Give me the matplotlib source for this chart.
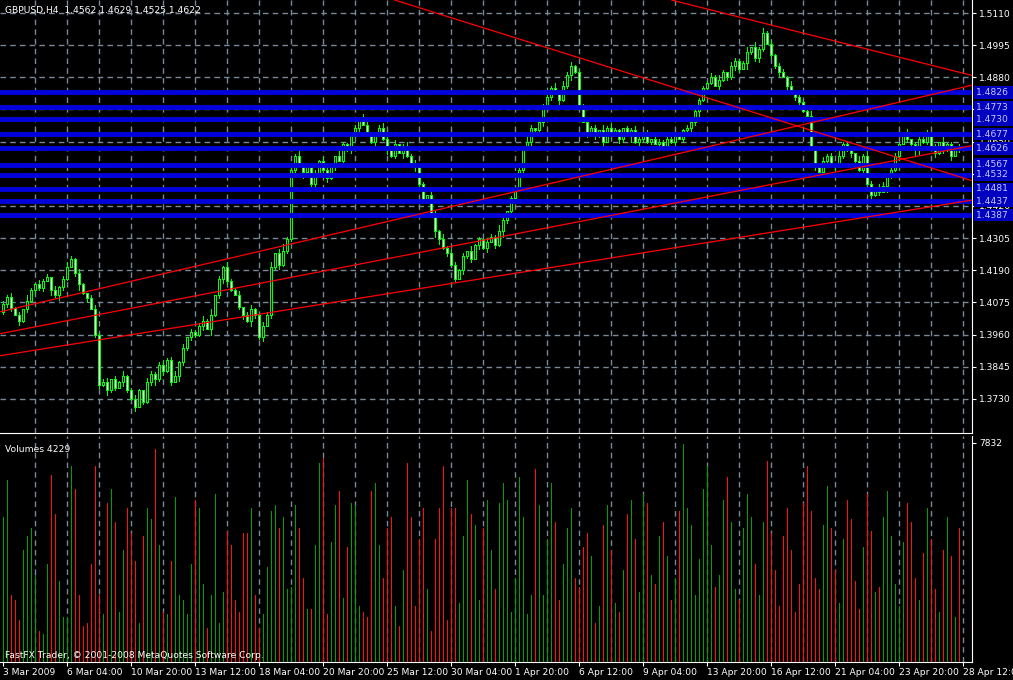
import numpy as np
import matplotlib.pyplot as plt
from matplotlib.patches import Rectangle

# GBPUSD H4, 3 Mar 2009 .. 28 Apr 2009 (closes)
closes = [
    1.4070, 1.4095, 1.4055, 1.4030, 1.4010, 1.4050, 1.4080, 1.4120,
    1.4140, 1.4125, 1.4150, 1.4165, 1.4120, 1.4100, 1.4130, 1.4160,
    1.4200, 1.4230, 1.4180, 1.4140, 1.4110, 1.4090, 1.4050, 1.3960,
    1.3780, 1.3790, 1.3760, 1.3800, 1.3770, 1.3790, 1.3810, 1.3760,
    1.3730, 1.3700, 1.3760, 1.3720, 1.3790, 1.3820, 1.3800, 1.3850,
    1.3830, 1.3870, 1.3790, 1.3810, 1.3860, 1.3910, 1.3950, 1.3970,
    1.3960, 1.3990, 1.4010, 1.3980, 1.4030, 1.4100, 1.4160, 1.4200,
    1.4150, 1.4120, 1.4100, 1.4060, 1.4030, 1.4010, 1.4050, 1.4030,
    1.3950, 1.3990, 1.4030, 1.4200, 1.4250, 1.4210, 1.4260, 1.4300,
    1.4550, 1.4600, 1.4570, 1.4540, 1.4560, 1.4500, 1.4530, 1.4580,
    1.4550, 1.4520, 1.4560, 1.4600, 1.4580, 1.4640, 1.4620, 1.4670,
    1.4700, 1.4730, 1.4710, 1.4680, 1.4650, 1.4680, 1.4700, 1.4660,
    1.4620, 1.4600, 1.4640, 1.4610, 1.4630, 1.4600, 1.4570, 1.4560,
    1.4500, 1.4440, 1.4460, 1.4390, 1.4330, 1.4300, 1.4270, 1.4250,
    1.4210, 1.4160, 1.4190, 1.4240, 1.4260, 1.4230, 1.4280, 1.4300,
    1.4270, 1.4290, 1.4310, 1.4280, 1.4330, 1.4370, 1.4400, 1.4450,
    1.4480, 1.4550, 1.4620, 1.4650, 1.4700, 1.4690, 1.4720, 1.4780,
    1.4810, 1.4840, 1.4820, 1.4800, 1.4850, 1.4890, 1.4920, 1.4900,
    1.4780, 1.4720, 1.4680, 1.4700, 1.4670, 1.4690, 1.4650, 1.4700,
    1.4680, 1.4690, 1.4660, 1.4700, 1.4670, 1.4690, 1.4650, 1.4660,
    1.4680, 1.4650, 1.4660, 1.4640, 1.4650, 1.4630, 1.4660, 1.4650,
    1.4670, 1.4660, 1.4690, 1.4700, 1.4720, 1.4760, 1.4800, 1.4840,
    1.4860, 1.4880, 1.4850, 1.4870, 1.4900, 1.4880, 1.4920, 1.4940,
    1.4910, 1.4930, 1.4970, 1.4990, 1.4950, 1.4980, 1.5040, 1.5000,
    1.4960, 1.4920, 1.4900, 1.4880, 1.4850, 1.4830, 1.4810, 1.4790,
    1.4760, 1.4740, 1.4620, 1.4560, 1.4540, 1.4580, 1.4600, 1.4570,
    1.4560, 1.4600, 1.4640, 1.4620, 1.4610, 1.4580, 1.4550, 1.4600,
    1.4500, 1.4460, 1.4480, 1.4470, 1.4490, 1.4530, 1.4550, 1.4600,
    1.4640, 1.4680, 1.4660, 1.4640, 1.4620, 1.4660, 1.4650, 1.4680,
    1.4630, 1.4610, 1.4650, 1.4620, 1.4640, 1.4600, 1.4630, 1.4622,
]
first_open = 1.4040
# wick lengths, in units of 5 pips
hi_wick = ("21312041132203124213102312302141231032123124130212314021421302311324035221312041"
           "32103212214310231230241321032141321203121321420121342031124032312131204132101231"
           "12032112231203121324103212403231312213022143031213212041321430122130231212031202")
lo_wick = ("12203121312041321024130221312031130212413120321221304123210231421302131212041321"
           "23120312130214213120412321024312120312031302142121304123120312412031213021320413"
           "21203121302132412103121320412310213041221302312130213212031204213021431203121302")
# tick volume in hundreds
volumes = [
    52, 65, 24, 22, 15, 40, 45, 48, 31, 11, 10, 35, 67, 53, 29, 16, 16, 70, 62, 24,
    13, 14, 35, 70, 24, 17, 57, 62, 50, 18, 40, 55, 46, 36, 14, 45, 55, 51, 76, 42,
    18, 17, 36, 59, 24, 22, 17, 35, 58, 55, 28, 12, 24, 60, 14, 25, 47, 42, 22, 18,
    46, 46, 55, 24, 12, 17, 34, 54, 56, 48, 52, 26, 27, 56, 48, 30, 19, 19, 42, 71,
    73, 17, 43, 56, 61, 23, 41, 57, 56, 20, 18, 16, 61, 64, 42, 30, 48, 52, 20, 13,
    33, 71, 52, 20, 44, 55, 26, 11, 44, 55, 70, 15, 55, 55, 21, 45, 65, 53, 49, 22,
    48, 58, 40, 26, 57, 64, 58, 18, 30, 66, 52, 17, 24, 69, 56, 24, 44, 64, 50, 22,
    35, 48, 55, 30, 27, 41, 46, 38, 14, 20, 49, 56, 40, 21, 18, 33, 53, 58, 44, 25,
    60, 57, 31, 28, 45, 50, 38, 22, 30, 54, 78, 55, 49, 24, 37, 62, 70, 42, 27, 31,
    58, 66, 50, 26, 22, 48, 60, 52, 35, 24, 50, 72, 46, 33, 20, 45, 55, 40, 18, 28,
    57, 70, 54, 30, 26, 49, 63, 48, 33, 21, 44, 58, 51, 29, 19, 41, 60, 47, 25, 27,
    52, 61, 45, 28, 20, 43, 57, 50, 30, 22, 39, 55, 44, 26, 18, 40, 52, 38, 16, 48,
]
levels = [1.4826, 1.4773, 1.4730, 1.4677, 1.4626, 1.4567, 1.4532, 1.4481, 1.4437, 1.4387]
# trend lines as (bar, price) pairs
trends = [
    [(98.0, 1.5156), (242.5, 1.4509)],
    [(167.2, 1.5156), (252.5, 1.4850)],
    [(-0.75, 1.4041), (252.5, 1.4886)],
    [(-0.75, 1.3963), (252.5, 1.4664)],
    [(-0.75, 1.3884), (252.5, 1.4464)],
]
date_labels = ["3 Mar 2009", "6 Mar 04:00", "10 Mar 20:00", "13 Mar 12:00", "18 Mar 04:00",
               "20 Mar 20:00", "25 Mar 12:00", "30 Mar 04:00", "1 Apr 20:00", "6 Apr 12:00",
               "9 Apr 04:00", "13 Apr 20:00", "16 Apr 12:00", "21 Apr 04:00", "23 Apr 20:00",
               "28 Apr 12:00"]
price_ticks = [1.3730, 1.3845, 1.3960, 1.4075, 1.4190, 1.4305, 1.4420, 1.4535,
               1.4650, 1.4765, 1.4880, 1.4995, 1.5110]

closes = np.array(closes)
opens = np.concatenate([[first_open], closes[:-1]])
his = np.maximum(opens, closes) + np.array([int(c) for c in hi_wick]) * 0.0005
los = np.minimum(opens, closes) - np.array([int(c) for c in lo_wick]) * 0.0005
n = len(closes)
idx = np.arange(n)

FS = 6.6
PX = 0.72  # one pixel in points
W, H = 1013, 680
fig = plt.figure(figsize=(W / 100, H / 100), dpi=100, facecolor="black")
ax = fig.add_axes([0, 1 - 433 / H, 972 / W, 433 / H], facecolor="black")
vax = fig.add_axes([0, 1 - 662 / H, 972 / W, 226 / H], facecolor="black")

grid_kw = dict(color="#778899", ls=(0, (4, 3)), lw=1)
xlim = (-0.75, 242.25)
for a in (ax, vax):
    a.set_xlim(*xlim)
    for x in range(8, 243, 8):
        a.axvline(x, zorder=0, **grid_kw)
    for s in ["top", "left"]:
        a.spines[s].set_visible(False)
    for s in ["right", "bottom"]:
        a.spines[s].set_color("white")
    a.tick_params(colors="white", labelsize=FS, length=3, direction="out", pad=2)

ax.set_ylim(1.36077, 1.51565)
for p in price_ticks:
    ax.axhline(p, zorder=0, **grid_kw)

# candles
for i in idx:
    ax.plot([i, i], [los[i], his[i]], color="#00FF00", lw=PX, zorder=3, antialiased=False)
    bull = closes[i] >= opens[i]
    lo_b = min(opens[i], closes[i])
    h_b = max(abs(closes[i] - opens[i]), 0.0002)
    ax.add_patch(Rectangle((i - 0.35, lo_b), 0.7, h_b, facecolor="black" if bull else "white",
                           edgecolor="#00FF00", lw=PX, zorder=4, antialiased=False))

for lv in levels:
    ax.axhline(lv, color="#0000DD", lw=3.5, zorder=5)
for (x0, y0), (x1, y1) in trends:
    ax.plot([x0, x1], [y0, y1], color="red", lw=0.9, zorder=6)

ax.yaxis.tick_right()
ax.set_yticks(price_ticks)
ax.set_yticklabels(["%.4f" % p for p in price_ticks])
ax.set_xticks([])
for lv in levels:
    ax.annotate("%.4f " % lv, xy=(1.0, lv), xycoords=("axes fraction", "data"),
                xytext=(3, 0), textcoords="offset points", va="center", ha="left",
                fontsize=FS, color="#C8C8FF", annotation_clip=False,
                bbox=dict(boxstyle="square,pad=0.2", fc="#0000C0", ec="none"))
ax.text(0.005, 0.985, "GBPUSD,H4  1.4562 1.4629 1.4525 1.4622", transform=ax.transAxes,
        color="white", fontsize=FS, va="top")

# volumes
vcol = ["#00A000" if c >= o else "#FF1010" for o, c in zip(opens, closes)]
vax.vlines(idx, 0, np.array(volumes) * 100, colors=vcol, lw=PX, zorder=3, antialiased=False)
vax.set_ylim(0, 7832 * 226 / 219)
vax.yaxis.tick_right()
vax.set_yticks([7832])
vax.set_yticklabels(["7832"])
vax.set_xticks(range(0, 241, 16))
vax.set_xticklabels(date_labels, ha="left")
vax.tick_params(axis="x", pad=1)
vax.text(0.005, 0.96, "Volumes 4229", transform=vax.transAxes, color="white",
         fontsize=FS, va="top")
vax.text(0.005, 0.01, "FastFX Trader, \u00a9 2001-2008 MetaQuotes Software Corp.",
         transform=vax.transAxes, color="white", fontsize=FS, va="bottom")

fig.savefig("out.png", dpi=100, facecolor="black")
